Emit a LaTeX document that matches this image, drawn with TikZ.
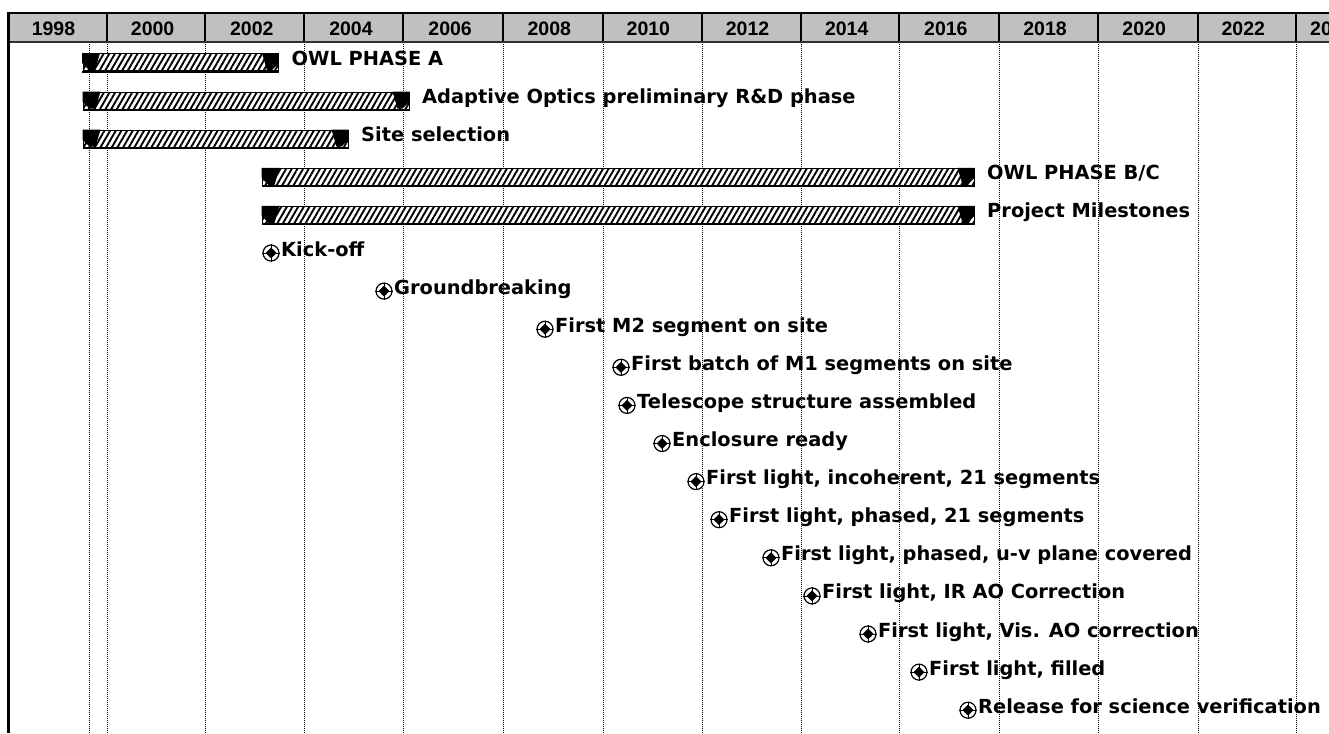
\documentclass[tikz,border=0pt]{standalone}
\usepackage{fontspec}
\setmainfont{DejaVu Sans}
\newfontfamily\hdrfam{Liberation Sans}
\usetikzlibrary{calc,patterns.meta}
\pgfdeclarelayer{grid}
\pgfdeclarelayer{front}
\pgfsetlayers{main,grid,front}
\definecolor{hdrgray}{HTML}{C0C0C0}
\definecolor{hdrline}{HTML}{303030}
\newcommand\mylblfont{\fontsize{19.4pt}{20pt}\selectfont\bfseries}
\newcommand\myhdrfont{\hdrfam\fontsize{19.5pt}{20pt}\selectfont\bfseries}
\tikzset{
  dotv/.style={line width=1pt, dash pattern=on 1pt off 1pt},
  hsep/.style={line width=1.5pt},
  barbody/.style={rectangle, draw=black, line width=1pt, inner sep=0pt, minimum height=17pt,
    preaction={fill=white},
    pattern={Lines[angle=60,distance=4.9pt,line width=1.9pt]}},
  barcap/.style={fill=black},
  lbl/.style={anchor=base west, inner sep=0pt, font=\mylblfont},
  yr/.style={anchor=base, inner sep=0pt, font=\myhdrfont},
  mstone/.style={circle, draw=black, line width=1.2pt, fill=white, minimum size=16pt, inner sep=0pt},
}
\begin{document}
\begin{tikzpicture}[x=1pt,y=-1pt]
\useasboundingbox (0,0) rectangle (1329,733);
\clip (0,0) rectangle (1329,733);
\fill[white] (0,0) rectangle (1329,733);
% header
\fill[hdrgray] (8,13) rectangle (1329,42);
\draw[line width=1.5pt] (8,13) -- (1329,13);
\draw[line width=2.5pt, hdrline] (8,42) -- (1329,42);
\foreach \x in {107,205,304,403,503,603,702,801,899,999,1098,1198,1296}
  \draw[hsep] (\x,13) -- (\x,41);
\foreach \yy [count=\k from 0] in {1998,2000,...,2022}
  \node[yr] (y\k) at ({53.5+99.15*\k},36) {\yy};
\node[yr, anchor=base west] (y13) at (1310,36) {2024};
\draw[line width=2.5pt] (8.5,12) -- (8.5,733);
% grid
\begin{pgfonlayer}{grid}
\foreach \x in {89,107,205,304,403,503,603,702,801,899,999,1098,1198,1296}
  \draw[dotv] (\x,44) -- (\x,733);
\end{pgfonlayer}
% bars
\begin{pgfonlayer}{front}
\foreach \r/\xa/\xb in {0/83/278, 1/83/409, 2/83/348, 3/262/974, 4/262/974}{
  \node[barbody, minimum width={\xb pt-\xa pt}] (bar\r) at ({(\xa+\xb)/2},{62.5+38.1*\r}) {};
  \draw[line width=2pt] (bar\r.south west) -- (bar\r.south east);
  \fill[barcap] (bar\r.north west) -- ++(18,0) -- ++(-5,17) -- ++(-6,0) -- ++(-7,-7) -- cycle;
  \fill[barcap] (bar\r.north east) -- ++(-17,0) -- ++(5,17) -- ++(5,0) -- ++(7,-7) -- cycle;
}
\foreach \r/\x in {5/271,6/384,7/545,8/621,9/627,10/662,11/696,12/719,13/771,14/812,15/868,16/919,17/968}{
  \node[mstone] (ms\r) at (\x,{62.5+38.1*\r}) {};
  \fill (ms\r.center) +(0,-5.5) -- +(5.5,0) -- +(0,5.5) -- +(-5.5,0) -- cycle;
  \draw[line width=0.8pt] (ms\r.north) -- (ms\r.south) (ms\r.west) -- (ms\r.east);
}
\end{pgfonlayer}
% labels
\foreach \r/\t in {0/{OWL PHASE A}, 1/{Adaptive Optics preliminary R\&D phase}, 2/{Site selection}, 3/{OWL PHASE B/C}, 4/{Project Milestones}}
  \node[lbl] (bl\r) at ($(bar\r.east)+(12.5,3)$) {\t};
\foreach \r/\t in {5/{Kick-off}, 6/{Groundbreaking}, 7/{First M2 segment on site}, 8/{First batch of M1 segments on site}, 9/{Telescope structure assembled}, 10/{Enclosure ready}, 11/{First light, incoherent, 21 segments}, 12/{First light, phased, 21 segments}, 13/{First light, phased, u-v plane covered}, 14/{First light, IR AO Correction}, 15/{First light, Vis. AO correction}, 16/{First light, filled}, 17/{Release for science verification}}
  \node[lbl] (mt\r) at ($(ms\r.center)+(10,3)$) {\t};
\end{tikzpicture}
\end{document}
